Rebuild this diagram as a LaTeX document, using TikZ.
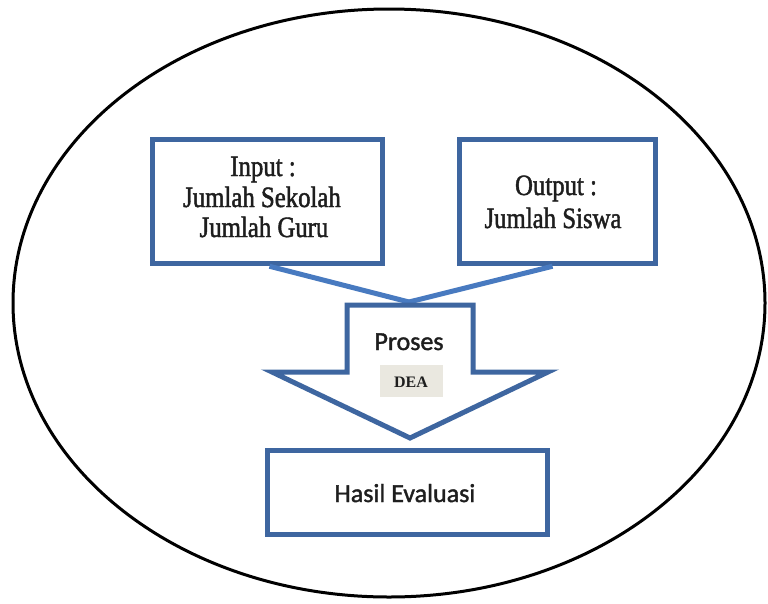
\documentclass[tikz,border=0pt]{standalone}
\usepackage{fontspec}
\setmainfont{Liberation Serif}
\newfontfamily\condserif[FakeStretch=0.84,FakeBold=1.5]{Liberation Serif}
\newfontfamily\calibfont[FakeBold=1.5]{Carlito}
\definecolor{boxblue}{RGB}{62,102,160}
\definecolor{lineblue}{RGB}{72,122,192}
\definecolor{deagray}{RGB}{234,232,224}
\definecolor{txtgray}{RGB}{30,30,30}
\begin{document}
\begin{tikzpicture}[x=1pt,y=-1pt,
  bluebox/.style={draw=boxblue,line width=5pt,fill=white,inner sep=0pt},
  conn/.style={draw=lineblue,line width=5pt},
  sertext/.style={anchor=base,inner sep=0pt,text=txtgray,font=\condserif\fontsize{29.5}{30}\selectfont},
  caltext/.style={anchor=base,inner sep=0pt,text=txtgray,font=\calibfont\fontsize{26}{30}\selectfont},
  deabox/.style={fill=deagray,minimum width=63pt,minimum height=32pt,inner sep=0pt}]
\useasboundingbox (0,0) rectangle (768,603);
\fill[white] (0,0) rectangle (768,603);
\draw[line width=3pt] (389,303) ellipse [x radius=376pt, y radius=294pt];
% boxes
\node[bluebox,minimum width=230pt,minimum height=124.5pt] (input) at (267.5,201.5) {};
\node[bluebox,minimum width=196pt,minimum height=124.5pt] (output) at (557.5,201.5) {};
\node[bluebox,minimum width=280pt,minimum height=84pt] (hasil) at (407.5,492.5) {};
% connectors
\coordinate (meet) at (409,302);
\draw[conn] ([xshift=2pt]input.south) -- (meet);
\draw[conn] ([xshift=-5pt]output.south) -- (meet);
% process arrow
\coordinate (sl) at (347,305);
\coordinate (sr) at (473,305);
\coordinate (tip) at (410,438);
\draw[draw=boxblue,line width=5pt,fill=white,line join=miter]
  (sl) -- (sr) -- (473,372) -- (548,372) -- (tip) -- (272,372) -- (347,372) -- cycle;
% texts
\node[sertext] (in1) at (263,176) {Input :};
\node[sertext] (in2) at (262,207) {Jumlah Sekolah};
\node[sertext] (in3) at (264,237) {Jumlah Guru};
\node[sertext] (out1) at (556,195) {Output :};
\node[sertext] (out2) at (553,228) {Jumlah Siswa};
\node[caltext] (proses) at (409,350) {Proses};
\node[deabox] (deabg) at (411,381) {};
\node[anchor=base,inner sep=0pt,text=txtgray,font=\bfseries\fontsize{16}{18}\selectfont] (dea) at (411,387) {DEA};
\node[caltext] (hasiltxt) at (405,502) {Hasil Evaluasi};
\end{tikzpicture}
\end{document}
